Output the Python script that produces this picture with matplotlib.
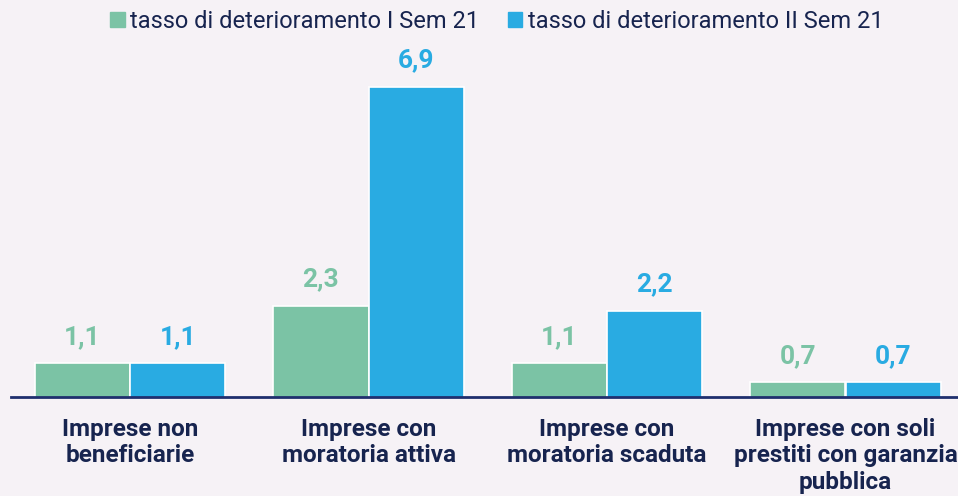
import matplotlib
matplotlib.use("Agg")
import matplotlib.pyplot as plt
from matplotlib.patches import Rectangle

categories = ["Imprese non\nbeneficiarie", "Imprese con\nmoratoria attiva",
              "Imprese con\nmoratoria scaduta", "Imprese con soli\nprestiti con garanzia\npubblica"]
series_names = ["tasso di deterioramento I Sem 21", "tasso di deterioramento II Sem 21"]
sem1 = [1.1, 2.3, 1.1, 0.7]
sem2 = [1.1, 6.9, 2.2, 0.7]

green = "#7BC3A5"
blue = "#29ABE2"
navy = "#17244F"
bg = "#F6F2F6"

plt.rcParams['font.family'] = ['Roboto', 'DejaVu Sans']

fig = plt.figure(figsize=(9.58, 4.96), dpi=100, facecolor=bg)
W, H = 958, 496
x0_px = 10.75
x1_px = 964.75
ybase = 396.7
scale = 47.7
ymin, ymax = 0.4, 8.0
top_px = ybase - (ymax - ymin) * scale
ax = fig.add_axes([x0_px / W, 1 - ybase / H, (x1_px - x0_px) / W, (ybase - top_px) / H])
ax.set_facecolor(bg)

x = list(range(len(categories)))
w = 0.4
b1 = ax.bar([i - w / 2 for i in x], sem1, width=w, bottom=0, color=green, edgecolor="white", linewidth=1.2)
b2 = ax.bar([i + w / 2 for i in x], sem2, width=w, bottom=0, color=blue, edgecolor="white", linewidth=1.2)

ax.set_xlim(-0.5, 3.5)
ax.set_ylim(ymin, ymax)

for bars, vals, c in [(b1, sem1, green), (b2, sem2, blue)]:
    for rect, v in zip(bars, vals):
        ax.annotate(f"{v:.1f}".replace(".", ","), (rect.get_x() + rect.get_width() / 2, v),
                    xytext=(0, 14), textcoords="offset points", ha="center", va="baseline",
                    color=c, fontsize=19, fontweight="bold")

for s in ["top", "right", "left"]:
    ax.spines[s].set_visible(False)
ax.spines["bottom"].set_color("#1F2F6E")
ax.spines["bottom"].set_linewidth(2)
ax.set_yticks([])
ax.set_xticks(x)
ax.set_xticklabels(categories, fontsize=17.5, fontweight="bold", color=navy, linespacing=1.2)
ax.tick_params(axis="x", length=0, pad=15)

handles = [Rectangle((0, 0), 1, 1, color=green), Rectangle((0, 0), 1, 1, color=blue)]
fig.legend(handles, series_names, loc="center", bbox_to_anchor=(0.5 + 18 / W, 1 - 21 / H), ncol=2,
           frameon=False, fontsize=17, labelcolor=navy, handlelength=0.6, handleheight=0.6,
           handletextpad=0.25, columnspacing=1.2)

fig.savefig("out.png", dpi=100, facecolor=bg)
